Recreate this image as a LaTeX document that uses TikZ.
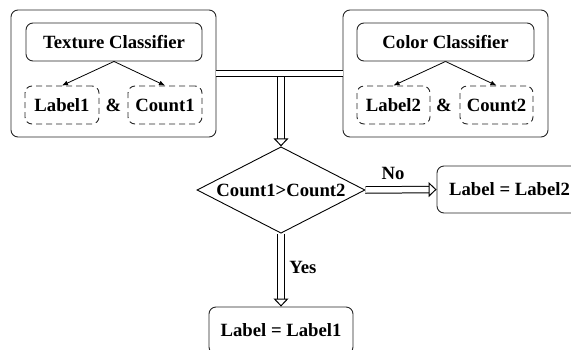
\documentclass[tikz,border=0pt]{standalone}
\usepackage{fontspec}
\setmainfont{Liberation Serif}
\usetikzlibrary{shapes.geometric,arrows.meta}

\tikzset{
  box/.style={draw=black!85, rounded corners=7pt, line width=0.9pt, inner sep=0pt,
              font=\fontsize{18.7}{22}\selectfont\bfseries},
  dashbox/.style={box, dashed, dash pattern=on 6pt off 4pt},
  lbl/.style={font=\fontsize{18.7}{22}\selectfont\bfseries, inner sep=0pt},
  thin/.style={draw=black, line width=0.8pt, -{Latex[length=6pt,width=5pt]}},
  dbl/.style={draw=black, line width=1pt, double=white, double distance=5.5pt},
  dblarrow/.style={dbl, -{Triangle[open, length=8pt, width=15pt, line width=1pt]}}
}

\begin{document}
\begin{tikzpicture}[x=1pt,y=-1pt]
\useasboundingbox (0,0) rectangle (571,349);
\clip (0,0) rectangle (571,349);

% left classifier
\node[box, minimum width=205pt, minimum height=127pt] (tbox) at (113.5,73.5) {};
\node[box, minimum width=176pt, minimum height=38pt] (texture) at (114,42) {Texture Classifier};
\node[dashbox, minimum width=74pt, minimum height=38pt] (label1) at (62,105) {Label1};
\node[dashbox, minimum width=74pt, minimum height=38pt] (count1) at (165,105) {Count1};
\node[lbl] (amp1) at (113.5,105) {\&};

% right classifier
\node[box, minimum width=205pt, minimum height=127pt] (cbox) at (445.5,73.5) {};
\node[box, minimum width=177pt, minimum height=38pt] (color) at (445.5,42) {Color Classifier};
\node[dashbox, minimum width=73pt, minimum height=38pt] (label2) at (393.5,105) {Label2};
\node[dashbox, minimum width=73pt, minimum height=38pt] (count2) at (496.5,105) {Count2};
\node[lbl] (amp2) at (444,105) {\&};

% decision
\node[draw=black, line width=0.9pt, diamond, aspect=1.75, inner sep=0pt,
      minimum width=168pt, font=\fontsize{18.7}{22}\selectfont\bfseries] (test) at (281,190) {Count1>Count2};
\node[box, minimum width=145pt, minimum height=47pt] (res2) at (509.5,189.5) {Label = Label2};
\node[box, minimum width=144pt, minimum height=47pt] (res1) at (281,330.5) {Label = Label1};
\node[lbl] (nolab) at (393,173) {No};
\node[lbl] (yeslab) at (303,267) {Yes};

\coordinate (junc) at (281,77);

\draw[thin] (texture.south) -- (label1.north);
\draw[thin] (texture.south) -- (count1.north);
\draw[thin] (color.south) -- (label2.north);
\draw[thin] (color.south) -- (count2.north);

\draw[dbl] (tbox.east) -- (cbox.west);
\draw[dblarrow] (junc) -- (test.north);
\draw[dblarrow] (test.east) -- (res2.west);
\draw[dblarrow] (test.south) -- (res1.north);
\end{tikzpicture}
\end{document}
